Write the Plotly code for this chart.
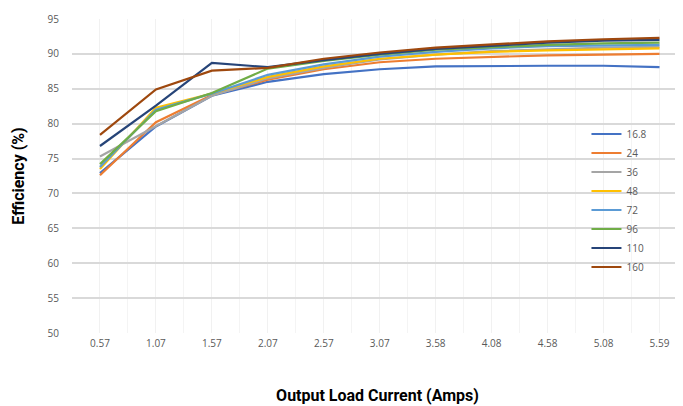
import plotly.graph_objects as go

# output load current (A), one tick per measurement point
currents = ["0.57", "1.07", "1.57", "2.07", "2.57", "3.07", "3.58", "4.08", "4.58", "5.08", "5.59"]

# efficiency (%) per input voltage
eff_16_8 = [72.9, 79.6, 84.0, 86.0, 87.1, 87.8, 88.2, 88.3, 88.3, 88.3, 88.1]
eff_24 = [72.6, 80.2, 84.1, 86.3, 87.8, 88.8, 89.3, 89.6, 89.8, 89.9, 90.0]
eff_36 = [75.3, 79.7, 84.0, 86.5, 88.0, 89.2, 89.9, 90.4, 90.7, 90.9, 91.0]
eff_48 = [73.5, 82.3, 84.3, 86.7, 88.2, 89.3, 89.9, 90.3, 90.5, 90.7, 90.8]
eff_72 = [73.8, 82.0, 84.3, 87.0, 88.5, 89.6, 90.3, 90.8, 91.1, 91.2, 91.3]
eff_96 = [74.2, 81.8, 84.4, 87.9, 89.0, 89.9, 90.6, 91.0, 91.3, 91.5, 91.6]
eff_110 = [76.8, 82.6, 88.7, 88.1, 89.1, 90.0, 90.7, 91.2, 91.6, 91.9, 92.0]
eff_160 = [78.4, 84.9, 87.6, 88.0, 89.3, 90.2, 90.9, 91.4, 91.8, 92.1, 92.3]

series = [
    ("16.8", eff_16_8, "#4472C4"),
    ("24", eff_24, "#ED7D31"),
    ("36", eff_36, "#A5A5A5"),
    ("48", eff_48, "#FFC000"),
    ("72", eff_72, "#5B9BD5"),
    ("96", eff_96, "#70AD47"),
    ("110", eff_110, "#264478"),
    ("160", eff_160, "#9E480E"),
]

idx = list(range(len(currents)))

fig = go.Figure()
for name, vals, color in series:
    fig.add_trace(go.Scatter(x=idx, y=vals, name=name, mode="lines",
                             line=dict(color=color, width=2.2)))

tick_font = dict(family="Open Sans, Liberation Sans, sans-serif", size=10, color="#595959")
title_font = dict(family="Roboto, Liberation Sans, sans-serif",
                  size=16, color="#000000", weight="bold")

# the page body adds an 8px margin, so the figure is sized 8px short
fig.update_layout(
    width=675, height=398,
    margin=dict(l=64, r=0, t=11, b=73),
    paper_bgcolor="white", plot_bgcolor="white",
    showlegend=True,
    legend=dict(x=0.842, y=0.68, xanchor="left", yanchor="top",
                bgcolor="rgba(0,0,0,0)", font=dict(family="Open Sans, sans-serif",
                                                   size=10, color="#595959"),
                itemwidth=30, tracegroupgap=0),
    xaxis=dict(
        range=[-0.5, 10.42], automargin=False,
        tickmode="array", tickvals=idx, ticktext=currents,
        tickfont=tick_font, ticks="", ticklabelstandoff=3,
        showgrid=True, gridcolor="#f1f1f1", gridwidth=1,
        minor=dict(tick0=0, dtick=0.5, showgrid=True, gridcolor="#f4f4f4"),
        zeroline=False, showline=False,
        title=dict(text="Output Load Current (Amps)", font=title_font, standoff=40),
    ),
    yaxis=dict(
        range=[50, 95], dtick=5, automargin=False,
        tickfont=tick_font, ticks="", ticklabelstandoff=12,
        showgrid=True, gridcolor="#d9d9d9", gridwidth=1.5,
        zeroline=False, showline=False,
        title=dict(text="Efficiency (%)", font=title_font, standoff=18),
    ),
)

fig.write_html("out.html")
